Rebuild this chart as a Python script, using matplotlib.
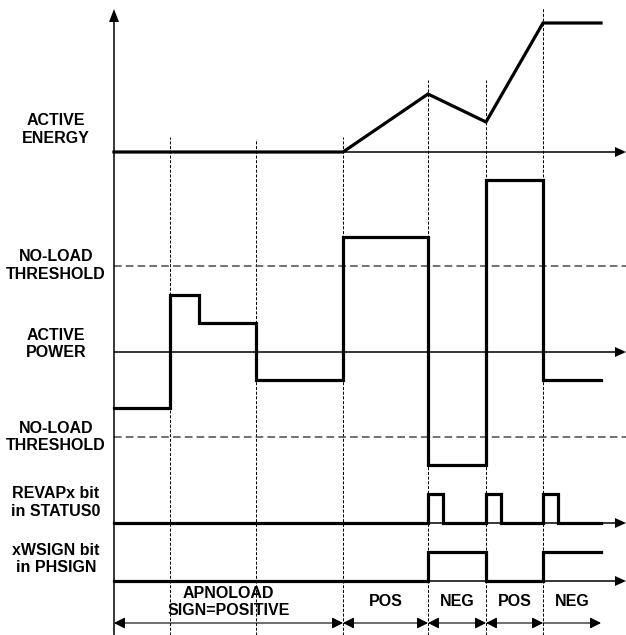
"""
Timing diagram: active energy / active power vs no-load threshold,
REVAPx bit in STATUS0 and xWSIGN bit in PHSIGN.
"""

import matplotlib
matplotlib.use("Agg")
import matplotlib.pyplot as plt
from matplotlib.patches import Polygon

plt.rcParams["font.family"] = ["Liberation Sans", "DejaVu Sans"]
plt.rcParams["lines.scale_dashes"] = False

# ---------------------------------------------------------------
# Data (time axis and levels in diagram units, y measured upward)
# ---------------------------------------------------------------
t_origin = 114
t_end = 601
t_arrow = 626
markers = [170, 256, 343, 428, 486, 543]
marker_tops = [498, 496, 498, 555, 555, 627]

# active energy, relative to its axis
energy_base = 483
energy_t = [114, 343, 428, 486, 543, 601]
energy_val = [0, 0, 58, 30, 129, 129]

# active power, relative to the zero line
power_zero = 283
power_edges = [114, 170, 199, 256, 343, 428, 486, 543, 601]
power_val = [-56, 57, 29, -28, 115, -113, 172, -28]
threshold = [86, -85]

# REVAPx bit pulses
revap_base = 112
revap_high = 29
revap_pulses = [428, 486, 543]
revap_width = 15

# xWSIGN bit
wsign_base = 54
wsign_high = 29
wsign_edges = [114, 428, 486, 543, 601]
wsign_val = [0, 1, 0, 1]

# intervals at the bottom
interval_y = 12
intervals = [(114, 343), (343, 428), (428, 486), (486, 543), (543, 601)]
interval_labels = ["APNOLOAD\nSIGN=POSITIVE", "POS", "NEG", "POS", "NEG"]

left_labels = ["ACTIVE\nENERGY", "NO-LOAD\nTHRESHOLD", "ACTIVE\nPOWER",
               "NO-LOAD\nTHRESHOLD", "REVAPx bit\nin STATUS0", "xWSIGN bit\nin PHSIGN"]
left_label_y = [505.5, 369.5, 291, 198, 132.5, 76]

# ---------------------------------------------------------------
fig = plt.figure(figsize=(6.26, 6.35), dpi=100)
ax = fig.add_axes([0, 0, 1, 1])
ax.set_xlim(0, 626)
ax.set_ylim(0, 635)
ax.axis("off")

THICK = 2.3
THIN = 1.1


def step_xy(edges, levels, base, scale=1):
    xs, ys = [], []
    for i, v in enumerate(levels):
        xs += [edges[i], edges[i + 1]]
        ys += [base + v * scale, base + v * scale]
    return xs, ys


def harrow(y):
    ax.plot([t_origin, t_arrow - 9], [y, y], color="black", lw=THIN,
            solid_capstyle="butt", zorder=2)
    ax.add_patch(Polygon([[t_arrow - 11, y + 5], [t_arrow - 11, y - 5], [t_arrow, y]],
                         closed=True, color="black", lw=0, zorder=2))


# vertical axis
ax.plot([t_origin, t_origin], [0, 616], color="black", lw=THIN, zorder=2)
ax.add_patch(Polygon([[t_origin - 5, 613], [t_origin + 5, 613], [t_origin, 626]],
                     closed=True, color="black", lw=0, zorder=2))

# marker lines
for x, top in zip(markers, marker_tops):
    ax.plot([x, x], [0, top], color="black", lw=0.7, dashes=(2.2, 1.2), zorder=1)

# thresholds
for th in threshold:
    ax.plot([t_origin, t_arrow], [power_zero + th] * 2, color="#4a4a4a", lw=1.1,
            dashes=(5.5, 3), zorder=1)

# axes with arrows
for y in [energy_base, power_zero, revap_base, wsign_base]:
    harrow(y)

# energy
ax.plot(energy_t, [energy_base + v for v in energy_val], color="black", lw=THICK,
        solid_joinstyle="miter", zorder=3)

# power
xs, ys = step_xy(power_edges, power_val, power_zero)
ax.plot(xs, ys, color="black", lw=THICK, solid_joinstyle="miter", zorder=3)

# REVAPx
rx, ry = [t_origin], [revap_base]
for p in revap_pulses:
    rx += [p, p, p + revap_width, p + revap_width]
    ry += [revap_base, revap_base + revap_high, revap_base + revap_high, revap_base]
rx.append(t_end)
ry.append(revap_base)
ax.plot(rx, ry, color="black", lw=THICK, solid_joinstyle="miter", zorder=3)

# xWSIGN
xs, ys = step_xy(wsign_edges, wsign_val, wsign_base, wsign_high)
ax.plot(xs, ys, color="black", lw=THICK, solid_joinstyle="miter", zorder=3)

# interval arrows and labels
for i, ((a, b), lab) in enumerate(zip(intervals, interval_labels)):
    style = "<|-|>" if i < len(intervals) - 1 else "<|-"
    ax.annotate("", xy=(a, interval_y), xytext=(b, interval_y),
                arrowprops=dict(arrowstyle=style + ",head_length=0.55,head_width=0.28",
                                color="black", lw=0.8, shrinkA=0, shrinkB=0,
                                mutation_scale=12))
    ax.text((a + b) / 2, 33, lab, ha="center", va="center", fontsize=11.5,
            fontweight="bold", linespacing=1.2)

# left labels
for lab, y in zip(left_labels, left_label_y):
    ax.text(56, y, lab, ha="center", va="center", fontsize=11.5,
            fontweight="bold", linespacing=1.2)

fig.savefig("out.png", dpi=100)
